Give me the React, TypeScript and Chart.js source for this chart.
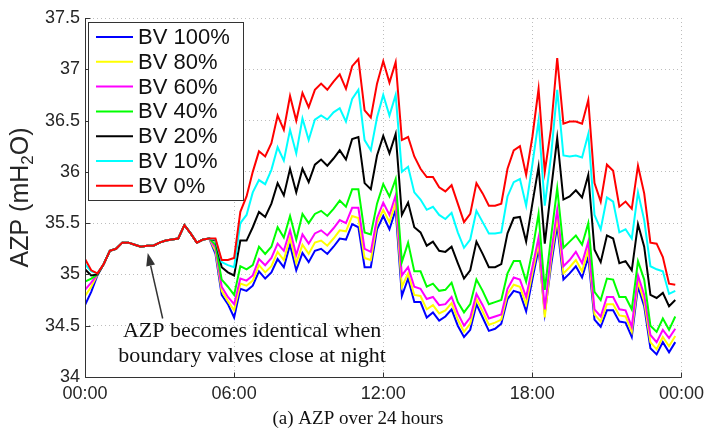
import React, { useEffect, useRef } from "react";
import { Chart, registerables } from "chart.js";

Chart.register(...registerables);

// ---------- data ----------
const timeTickLabels = ["00:00", "06:00", "12:00", "18:00", "00:00"];
const seriesLabels = ["BV 100%", "BV 80%", "BV 60%", "BV 40%", "BV 20%", "BV 10%", "BV 0%"];
const seriesColors = ["#0000ff", "#ffff00", "#ff00ff", "#00ff00", "#000000", "#00ffff", "#ff0000"];

// 15-minute samples, index 3..20 (identical for all settings at night)
const nightAZP = [35.10, 35.23, 35.25, 35.31, 35.31, 35.29, 35.27, 35.28, 35.28, 35.31, 35.33, 35.34, 35.35, 35.48, 35.40, 35.31, 35.34, 35.35];

const bv0 = [35.15, 35.04, 35.01, ...nightAZP,
  35.35, 35.14, 35.14, 35.16, 35.61, 35.76, 36.00, 36.20, 36.15, 36.28,
  36.55, 36.41, 36.74, 36.50, 36.77, 36.63, 36.80, 36.86, 36.80, 36.88,
  36.95, 36.81, 37.03, 37.10, 36.60, 36.53, 36.86, 37.08, 36.87, 37.07,
  36.31, 36.34, 36.15, 36.03, 35.95, 35.95, 35.85, 35.81, 35.87, 35.69,
  35.51, 35.59, 35.89, 35.79, 35.67, 35.67, 35.69, 36.03, 36.21, 36.25,
  35.97, 36.34, 36.81, 36.00, 36.42, 37.11, 36.47, 36.49, 36.49, 36.47,
  36.70, 35.89, 35.71, 36.07, 36.01, 35.66, 35.71, 35.64, 36.06, 35.79,
  35.31, 35.30, 35.17, 34.91, 34.90];

const bv10 = [35.10, 35.03, 35.01, ...nightAZP,
  35.34, 35.12, 35.09, 35.07, 35.50, 35.58, 35.80, 35.92, 35.88, 36.02,
  36.24, 36.11, 36.41, 36.18, 36.52, 36.31, 36.51, 36.55, 36.51, 36.58,
  36.62, 36.49, 36.71, 36.80, 36.31, 36.21, 36.53, 36.75, 36.55, 36.75,
  36.00, 36.05, 35.80, 35.73, 35.63, 35.66, 35.58, 35.54, 35.60, 35.41,
  35.26, 35.34, 35.62, 35.51, 35.40, 35.40, 35.41, 35.76, 35.90, 35.93,
  35.67, 36.07, 36.50, 35.67, 36.15, 36.80, 36.16, 36.15, 36.16, 36.14,
  36.37, 35.58, 35.44, 35.75, 35.71, 35.41, 35.44, 35.35, 35.80, 35.53,
  35.08, 35.05, 35.03, 34.81, 34.84];

const bv20 = [35.05, 34.99, 35.00, ...nightAZP,
  35.33, 35.07, 35.02, 34.99, 35.33, 35.33, 35.46, 35.61, 35.56, 35.69,
  35.89, 35.77, 36.03, 35.80, 36.03, 35.90, 36.07, 36.12, 36.06, 36.13,
  36.21, 36.12, 36.32, 36.34, 35.89, 35.83, 36.16, 36.35, 36.18, 36.37,
  35.58, 35.70, 35.46, 35.41, 35.28, 35.32, 35.23, 35.22, 35.27, 35.11,
  34.96, 35.04, 35.32, 35.20, 35.07, 35.07, 35.10, 35.40, 35.55, 35.56,
  35.32, 35.69, 36.05, 35.30, 35.82, 36.33, 35.73, 35.76, 35.82, 35.75,
  35.97, 35.24, 35.12, 35.38, 35.35, 35.11, 35.13, 35.04, 35.49, 35.27,
  34.80, 34.77, 34.82, 34.69, 34.75];

const bv40 = [34.93, 34.96, 35.00, ...nightAZP,
  35.29, 34.95, 34.88, 34.80, 35.08, 35.05, 35.09, 35.27, 35.20, 35.27,
  35.46, 35.36, 35.57, 35.34, 35.59, 35.50, 35.59, 35.62, 35.57, 35.64,
  35.72, 35.66, 35.83, 35.83, 35.41, 35.39, 35.69, 35.88, 35.76, 35.93,
  35.12, 35.31, 35.03, 35.03, 34.88, 34.91, 34.84, 34.85, 34.92, 34.73,
  34.63, 34.71, 34.95, 34.84, 34.71, 34.73, 34.75, 35.01, 35.13, 35.13,
  34.93, 35.23, 35.59, 34.85, 35.36, 35.84, 35.26, 35.32, 35.38, 35.29,
  35.50, 34.83, 34.75, 34.96, 34.95, 34.78, 34.78, 34.66, 35.13, 34.95,
  34.50, 34.44, 34.57, 34.46, 34.59];

const bv60 = [34.85, 34.92, 35.00, ...nightAZP,
  35.26, 34.88, 34.78, 34.71, 34.96, 34.94, 34.99, 35.15, 35.09, 35.16,
  35.30, 35.23, 35.43, 35.19, 35.39, 35.30, 35.40, 35.43, 35.38, 35.45,
  35.53, 35.50, 35.65, 35.65, 35.25, 35.22, 35.55, 35.70, 35.58, 35.77,
  34.99, 35.07, 34.88, 34.86, 34.76, 34.78, 34.70, 34.71, 34.78, 34.62,
  34.50, 34.58, 34.81, 34.70, 34.57, 34.59, 34.61, 34.86, 34.97, 34.95,
  34.78, 35.07, 35.36, 34.66, 35.20, 35.63, 35.08, 35.14, 35.22, 35.11,
  35.32, 34.66, 34.59, 34.78, 34.78, 34.66, 34.65, 34.49, 34.99, 34.80,
  34.41, 34.34, 34.46, 34.38, 34.47];

const bv80 = [34.79, 34.88, 35.00, ...nightAZP,
  35.23, 34.84, 34.74, 34.65, 34.91, 34.89, 34.94, 35.09, 35.02, 35.08,
  35.22, 35.14, 35.36, 35.11, 35.29, 35.20, 35.31, 35.33, 35.28, 35.35,
  35.43, 35.42, 35.57, 35.55, 35.16, 35.14, 35.50, 35.63, 35.51, 35.70,
  34.88, 35.01, 34.80, 34.79, 34.66, 34.70, 34.62, 34.65, 34.72, 34.56,
  34.44, 34.52, 34.76, 34.64, 34.51, 34.53, 34.56, 34.81, 34.90, 34.88,
  34.71, 35.01, 35.30, 34.58, 35.14, 35.55, 35.01, 35.07, 35.14, 35.03,
  35.24, 34.61, 34.54, 34.71, 34.71, 34.60, 34.59, 34.44, 34.93, 34.74,
  34.34, 34.27, 34.39, 34.30, 34.40];

const bv100 = [34.70, 34.83, 34.99, ...nightAZP,
  35.20, 34.80, 34.71, 34.58, 34.86, 34.84, 34.89, 35.03, 34.96, 35.02,
  35.15, 35.07, 35.29, 35.04, 35.21, 35.12, 35.23, 35.25, 35.20, 35.27,
  35.35, 35.34, 35.49, 35.46, 35.07, 35.07, 35.44, 35.57, 35.44, 35.63,
  34.79, 34.96, 34.73, 34.73, 34.58, 34.63, 34.55, 34.59, 34.66, 34.50,
  34.39, 34.46, 34.71, 34.58, 34.45, 34.47, 34.52, 34.76, 34.84, 34.82,
  34.64, 34.95, 35.25, 34.62, 35.08, 35.48, 34.95, 35.01, 35.08, 34.97,
  35.17, 34.56, 34.49, 34.65, 34.65, 34.54, 34.53, 34.39, 34.88, 34.69,
  34.28, 34.22, 34.34, 34.24, 34.34];

const seriesValues = [bv100, bv80, bv60, bv40, bv20, bv10, bv0];

const annotationLines = ["AZP becomes identical when", "boundary valves close at night"];
const captionText = "(a) AZP over 24 hours";
const yTitleParts = ["AZP (mH", "2", "O)"];

// annotation placement (in data units: x = 15-min step, y = mH2O)
const annoTextCenterX = 26.9;
const annoBaselinesY = [34.39, 34.146];
const arrowTail = { x: 12.5, y: 34.57 };
const arrowHead = { x: 10.1, y: 35.21 };

const SANS = "'Liberation Sans', Arial, sans-serif";
const SERIF = "'Liberation Serif', 'Times New Roman', serif";

const decorPlugin = {
  id: "decor",
  afterDraw(chart: any) {
    const { ctx, chartArea: a, scales } = chart;
    const xs = scales.x;
    const ys = scales.y;
    ctx.save();

    // solid left & bottom axes with inward ticks
    ctx.strokeStyle = "#333333";
    ctx.lineWidth = 1;
    ctx.setLineDash([]);
    ctx.beginPath();
    const L = Math.round(a.left) + 0.5;
    const B = Math.round(a.bottom) + 0.5;
    ctx.moveTo(L, a.top);
    ctx.lineTo(L, B);
    ctx.lineTo(a.right, B);
    xs.ticks.forEach((t: any) => {
      const px = Math.round(xs.getPixelForValue(t.value)) + 0.5;
      ctx.moveTo(px, B);
      ctx.lineTo(px, B - 5);
    });
    ys.ticks.forEach((t: any) => {
      const py = Math.round(ys.getPixelForValue(t.value)) + 0.5;
      ctx.moveTo(L, py);
      ctx.lineTo(L + 5, py);
    });
    ctx.stroke();

    // y-axis title with subscript
    ctx.save();
    ctx.translate(28, (a.top + a.bottom) / 2);
    ctx.rotate(-Math.PI / 2);
    ctx.fillStyle = "#262626";
    ctx.textBaseline = "alphabetic";
    ctx.textAlign = "left";
    const bigFont = `25px ${SANS}`;
    const subFont = `17px ${SANS}`;
    ctx.font = bigFont;
    const w1 = ctx.measureText(yTitleParts[0]).width;
    const w3 = ctx.measureText(yTitleParts[2]).width;
    ctx.font = subFont;
    const w2 = ctx.measureText(yTitleParts[1]).width;
    let x0 = -(w1 + w2 + w3) / 2;
    ctx.font = bigFont;
    ctx.fillText(yTitleParts[0], x0, 0);
    x0 += w1;
    ctx.font = subFont;
    ctx.fillText(yTitleParts[1], x0, 5);
    x0 += w2;
    ctx.font = bigFont;
    ctx.fillText(yTitleParts[2], x0, 0);
    ctx.restore();

    // legend
    const lx = a.left + 3;
    const ly = a.top + 4;
    const lw = 155;
    const lh = 178;
    ctx.fillStyle = "#ffffff";
    ctx.fillRect(lx, ly, lw, lh);
    ctx.strokeStyle = "#333333";
    ctx.lineWidth = 1;
    ctx.strokeRect(Math.round(lx) + 0.5, Math.round(ly) + 0.5, lw, lh);
    ctx.font = `22px ${SANS}`;
    ctx.textBaseline = "middle";
    ctx.textAlign = "left";
    seriesLabels.forEach((lab, i) => {
      const cy = ly + 15 + i * 24.8;
      ctx.strokeStyle = seriesColors[i];
      ctx.lineWidth = 2;
      ctx.beginPath();
      ctx.moveTo(lx + 8, cy);
      ctx.lineTo(lx + 45, cy);
      ctx.stroke();
      ctx.fillStyle = "#111111";
      ctx.fillText(lab, lx + 50, cy + 1);
    });

    // annotation text
    ctx.fillStyle = "#111111";
    ctx.font = `22px ${SERIF}`;
    ctx.textAlign = "center";
    ctx.textBaseline = "alphabetic";
    const tx = xs.getPixelForValue(annoTextCenterX);
    annotationLines.forEach((line, i) => {
      ctx.fillText(line, tx, ys.getPixelForValue(annoBaselinesY[i]));
    });

    // arrow
    const ax0 = xs.getPixelForValue(arrowTail.x);
    const ay0 = ys.getPixelForValue(arrowTail.y);
    const ax1 = xs.getPixelForValue(arrowHead.x);
    const ay1 = ys.getPixelForValue(arrowHead.y);
    const ang = Math.atan2(ay1 - ay0, ax1 - ax0);
    const headLen = 13;
    const headHalf = 4.5;
    const bx = ax1 - headLen * Math.cos(ang);
    const by = ay1 - headLen * Math.sin(ang);
    ctx.strokeStyle = "#333333";
    ctx.lineWidth = 1.5;
    ctx.beginPath();
    ctx.moveTo(ax0, ay0);
    ctx.lineTo(bx, by);
    ctx.stroke();
    ctx.fillStyle = "#333333";
    ctx.beginPath();
    ctx.moveTo(ax1, ay1);
    ctx.lineTo(bx + headHalf * Math.sin(ang), by - headHalf * Math.cos(ang));
    ctx.lineTo(bx - headHalf * Math.sin(ang), by + headHalf * Math.cos(ang));
    ctx.closePath();
    ctx.fill();

    // caption
    ctx.fillStyle = "#111111";
    ctx.font = `19px ${SERIF}`;
    ctx.textAlign = "center";
    ctx.textBaseline = "alphabetic";
    ctx.fillText(captionText, 358, 424);

    ctx.restore();
  },
};

export default function App() {
  const ref = useRef<HTMLCanvasElement | null>(null);

  useEffect(() => {
    if (!ref.current) return;
    const chart = new Chart(ref.current, {
      type: "line",
      data: {
        datasets: seriesValues.map((vals, si) => ({
          label: seriesLabels[si],
          data: vals.map((v, i) => ({ x: i, y: v })),
          borderColor: seriesColors[si],
          backgroundColor: seriesColors[si],
          borderWidth: 2,
          pointRadius: 0,
          tension: 0,
          fill: false,
          order: seriesValues.length - 1 - si,
        })),
      },
      options: {
        animation: false,
        responsive: false,
        maintainAspectRatio: false,
        events: [],
        layout: { padding: { left: 0, right: 25, top: 18, bottom: 0 } },
        plugins: {
          legend: { display: false },
          tooltip: { enabled: false },
          title: { display: false },
        },
        scales: {
          x: {
            type: "linear",
            min: 0,
            max: 96,
            ticks: {
              stepSize: 24,
              autoSkip: false,
              maxRotation: 0,
              padding: 6,
              color: "#262626",
              font: { family: SANS, size: 18 },
              callback: (v: any) => timeTickLabels[Math.round(Number(v) / 24)] ?? "",
            },
            grid: { color: "#bdbdbd", lineWidth: 1, drawTicks: false },
            border: { display: false, dash: [1, 3] },
            afterFit: (s: any) => {
              s.height = 55;
            },
          },
          y: {
            type: "linear",
            min: 34,
            max: 37.5,
            ticks: {
              stepSize: 0.5,
              padding: 5,
              color: "#262626",
              font: { family: SANS, size: 18 },
              callback: (v: any) => String(Number(v)),
            },
            grid: { color: "#bdbdbd", lineWidth: 1, drawTicks: false },
            border: { display: false, dash: [1, 3] },
            afterFit: (s: any) => {
              s.width = 85;
            },
          },
        },
      },
      plugins: [decorPlugin],
    });
    return () => chart.destroy();
  }, []);

  return (
    <div style={{ position: "fixed", left: 0, top: 0, width: 710, height: 432, background: "#ffffff" }}>
      <canvas ref={ref} width={710} height={432} style={{ display: "block" }} />
    </div>
  );
}
